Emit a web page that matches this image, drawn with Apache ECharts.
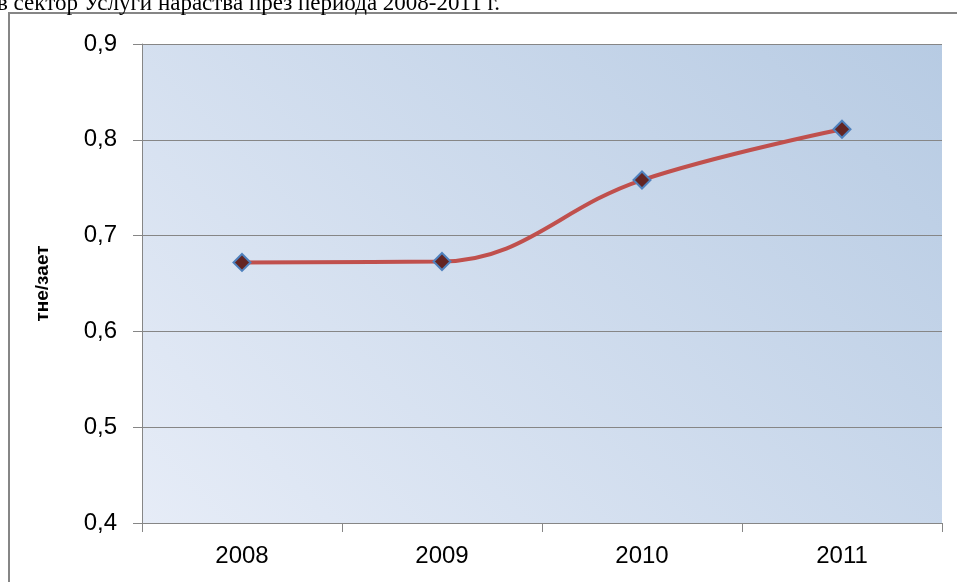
<!DOCTYPE html>
<html>
<head>
<meta charset="utf-8">
<script src="https://cdn.jsdelivr.net/npm/echarts@6/dist/echarts.min.js"></script>
<style>
  html, body { margin: 0; padding: 0; background: #fff; }
  #chart { width: 957px; height: 582px; }
</style>
</head>
<body>
<div id="chart"></div>
<script>
// данни
const years = ["2008", "2009", "2010", "2011"];
const values = [0.672, 0.673, 0.758, 0.811];
const yTicks = [0.4, 0.5, 0.6, 0.7, 0.8, 0.9];
const captionText = "в сектор Услуги нараства през периода 2008-2011 г.";

const myChart = echarts.init(document.getElementById("chart"));

const option = {
  backgroundColor: "#ffffff",
  animation: false,
  graphic: [
    {
      type: "text",
      left: -3,
      top: -8,
      style: {
        text: captionText,
        font: '23px "Liberation Serif"',
        fill: "#000",
      },
    },
    {
      type: "rect",
      shape: { x: 9, y: 13, width: 980, height: 600 },
      style: { fill: "none", stroke: "#868686", lineWidth: 2 },
      z: -1,
    },
  ],
  grid: {
    left: 142,
    right: 15,
    top: 44,
    bottom: 59,
    show: true,
    borderWidth: 0,
    // диагонален градиент: светло долу вляво, по-тъмно горе вдясно
    backgroundColor: new echarts.graphic.LinearGradient(
      142, 523, 782, -117,
      [
        { offset: 0, color: "#e6ecf7" },
        { offset: 1, color: "#b7cbe3" },
      ],
      true
    ),
  },
  xAxis: {
    type: "category",
    data: years,
    boundaryGap: true,
    axisLine: { lineStyle: { color: "#868686", width: 1 } },
    axisTick: { show: true, length: 9, lineStyle: { color: "#868686" } },
    axisLabel: {
      color: "#000",
      fontFamily: "Liberation Sans",
      fontSize: 24,
      margin: 21,
    },
  },
  yAxis: {
    type: "value",
    min: 0.4,
    max: 0.9,
    interval: 0.1,
    name: "тне/зает",
    nameLocation: "middle",
    nameGap: 90,
    nameTextStyle: {
      color: "#000",
      fontFamily: "Liberation Sans",
      fontWeight: "bold",
      fontSize: 19,
    },
    axisLine: { show: true, lineStyle: { color: "#868686", width: 1 } },
    axisTick: { show: true, length: 9, lineStyle: { color: "#868686" } },
    splitLine: { show: true, lineStyle: { color: "#868686", width: 1 } },
    axisLabel: {
      color: "#000",
      fontFamily: "Liberation Sans",
      fontSize: 24,
      margin: 25,
      formatter: (v) => {
        const t = yTicks.find((x) => Math.abs(x - v) < 1e-6);
        return t === undefined ? "" : t.toFixed(1).replace(".", ",");
      },
    },
  },
  series: [
    {
      name: "тне/зает",
      type: "line",
      data: values,
      smooth: 0.4,
      symbol: "diamond",
      symbolSize: 17,
      lineStyle: { color: "#c0504d", width: 4 },
      itemStyle: { color: "#632523", borderColor: "#4f81bd", borderWidth: 2 },
    },
  ],
};

myChart.setOption(option);
</script>
</body>
</html>
